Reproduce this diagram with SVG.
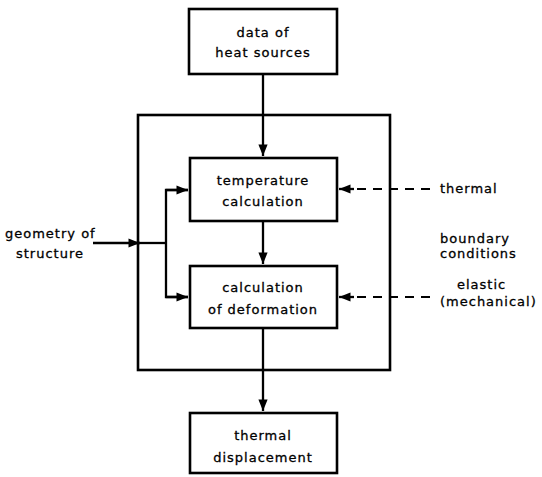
<svg xmlns="http://www.w3.org/2000/svg" width="542" height="477" viewBox="0 0 542 477">
<defs>
<marker id="ah" viewBox="0 0 10 10" refX="10" refY="5" markerWidth="6" markerHeight="5" orient="auto" markerUnits="strokeWidth">
<path d="M0,1 L10,5 L0,9 Z" fill="#000"/>
</marker>
<style>
.box{fill:#fff;stroke:#000;stroke-width:2.6}
.frame{fill:none;stroke:#000;stroke-width:2.6}
.ln{fill:none;stroke:#000;stroke-width:2.3}
.dash{fill:none;stroke:#000;stroke-width:2;stroke-dasharray:9,7}
text{font-family:"DejaVu Sans","Liberation Sans",sans-serif;font-size:13px;fill:#000;letter-spacing:1px;stroke:#000;stroke-width:0.3}
.c{text-anchor:middle}
</style>
</defs>
<rect width="542" height="477" fill="#fff"/>
<g id="frame"><rect x="138" y="115" width="252" height="255" class="frame"/></g>
<g id="connectors">
<path class="ln" d="M263,74 V156" marker-end="url(#ah)"/>
<path class="ln" d="M263,221 V264" marker-end="url(#ah)"/>
<path class="ln" d="M263,328 V411" marker-end="url(#ah)"/>
<path class="ln" d="M93,243 H140" marker-end="url(#ah)"/>
<path class="ln" d="M138,243 H166"/>
<path class="ln" d="M188,190 H166 V297 H188"/>
<path class="ln" d="M166,190 H188" marker-end="url(#ah)"/>
<path class="ln" d="M166,297 H188" marker-end="url(#ah)"/>
<path class="dash" d="M430,189 H341"/>
<path class="ln" d="M354,189 H339" marker-end="url(#ah)"/>
<path class="dash" d="M430,297 H341"/>
<path class="ln" d="M354,297 H339" marker-end="url(#ah)"/>
</g>
<g id="heat"><rect x="189" y="9" width="148" height="65" class="box"/>
<text class="c" x="263" y="37">data  of</text><text class="c" x="263" y="57">heat sources</text></g>
<g id="temp"><rect x="190" y="158" width="147" height="63" class="box"/>
<text class="c" x="263" y="185">temperature</text><text class="c" x="263" y="206">calculation</text></g>
<g id="deform"><rect x="190" y="266" width="147" height="62" class="box"/>
<text class="c" x="263" y="292">calculation</text><text class="c" x="263" y="314">of deformation</text></g>
<g id="disp"><rect x="190" y="413" width="147" height="60" class="box"/>
<text class="c" x="263" y="440">thermal</text><text class="c" x="263" y="462">displacement</text></g>
<g id="geometry"><text x="5" y="238">geometry of</text><text x="16" y="258">structure</text></g>
<g id="labels">
<text x="440" y="193">thermal</text>
<text x="440" y="243">boundary</text>
<text x="440" y="258">conditions</text>
<text x="457" y="289">elastic</text>
<text x="440" y="306">(mechanical)</text>
</g>
</svg>
